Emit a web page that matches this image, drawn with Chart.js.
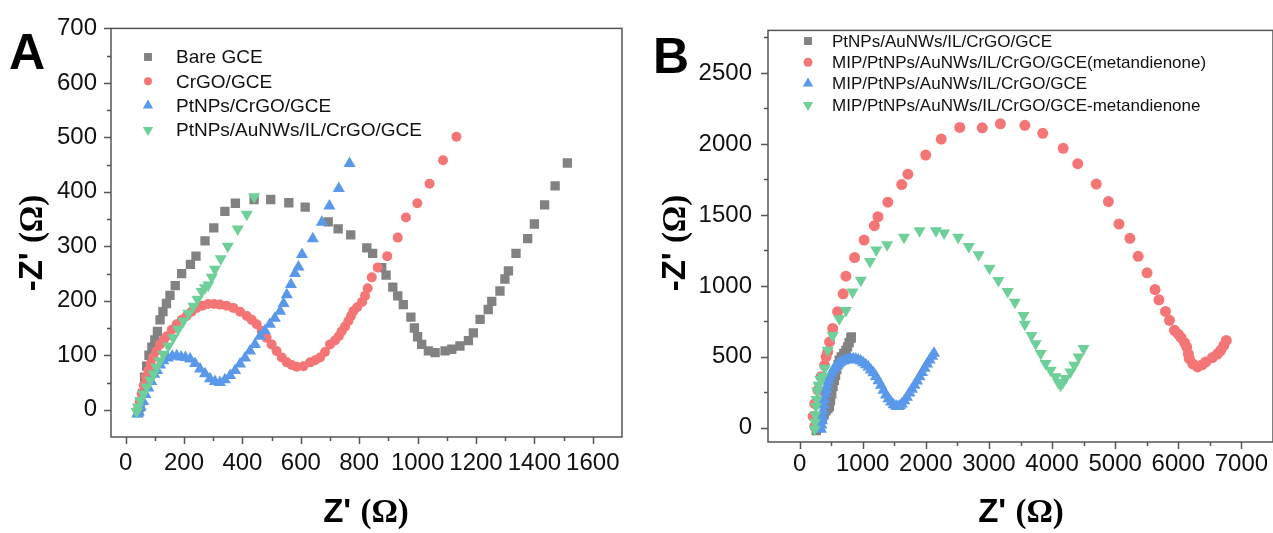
<!DOCTYPE html>
<html>
<head>
  <meta charset="utf-8" />
  <title>EIS Nyquist plots A / B</title>
  <script src="https://cdn.jsdelivr.net/npm/chart.js"></script>
  <style>
    html, body { margin: 0; padding: 0; background: #ffffff; overflow: hidden; }
    body { width: 1273px; height: 533px; position: relative; font-family: Arial, "Liberation Sans", sans-serif; }
    canvas { position: absolute; top: 0; }
    #chartA { left: 0; }
    #chartB { left: 640px; }
    .panel { position: absolute; font-weight: bold; font-size: 50px; color: #000; line-height: 1; }
    .title { position: absolute; font-weight: bold; font-size: 33px; color: #000; white-space: nowrap; line-height: 1; }
    .title .om { font-family: "Liberation Serif", "DejaVu Serif", serif; }
    .ytitle { transform: translate(-50%, -50%) rotate(-90deg); }
    .xtitle { transform: translate(-50%, 0); }
  </style>
</head>
<body>
  <canvas id="chartA" width="640" height="533"></canvas>
  <canvas id="chartB" width="640" height="533"></canvas>
  <div class="panel" style="left:9px; top:27px;">A</div>
  <div class="panel" style="left:653px; top:31px;">B</div>
  <div class="title ytitle" style="left:31px; top:243px;">-Z' <span class="om">(Ω)</span></div>
  <div class="title ytitle" style="left:674px; top:243px;">-Z' <span class="om">(Ω)</span></div>
  <div class="title xtitle" style="left:366px; top:494px;">Z' <span class="om">(Ω)</span></div>
  <div class="title xtitle" style="left:1021px; top:494px;">Z' <span class="om">(Ω)</span></div>
  <script>
    // ---- panel A data: [Z', -Z''] in ohm ----
    const labelsA = ['Bare GCE', 'CrGO/GCE', 'PtNPs/CrGO/GCE', 'PtNPs/AuNWs/IL/CrGO/GCE'];
    const bareGce = [[45,-5],[50,5],[58,30],[65,60],[72,80],[80,100],[90,115],[100,128],[109,144],[118,165],[128,180],[140,195],[152,210],[170,228],[192,250],[222,267],[241,282],[272,310],[302,334],[340,364],[376,379],[440,386],[497,386],[559,380],[615,372],[694,345],[728,332],[771,321],[826,297],[846,287],[877,261],[892,247],[915,225],[932,209],[951,193],[977,170],[989,150],[1000,134],[1014,120],[1037,108],[1060,105],[1094,108],[1117,111],[1145,117],[1174,127],[1191,141],[1214,166],[1242,184],[1254,199],[1282,218],[1299,240],[1311,255],[1337,287],[1377,314],[1400,341],[1435,376],[1471,411],[1513,453]];
    const crgoGce = [[42,0],[48,15],[55,30],[62,45],[70,60],[78,72],[86,85],[95,97],[106,108],[118,120],[130,128],[141,135],[158,147],[175,157],[192,165],[209,172],[226,180],[243,187],[263,191],[283,194],[303,194],[323,193],[346,191],[369,187],[392,180],[415,172],[432,165],[449,157],[466,145],[483,132],[500,120],[517,108],[535,96],[552,87],[569,82],[586,79],[609,80],[632,87],[649,91],[666,96],[683,106],[700,120],[717,127],[730,135],[740,144],[752,153],[763,163],[772,172],[780,181],[793,188],[810,198],[820,209],[829,223],[843,243],[863,261],[896,282],[932,316],[960,353],[999,379],[1041,415],[1087,458],[1133,501]];
    const ptCrgoGce = [[40,-8],[45,-4],[52,5],[60,15],[68,28],[78,40],[88,52],[98,65],[108,72],[118,82],[129,90],[145,95],[160,98],[175,99],[190,97],[205,96],[221,93],[238,85],[255,75],[272,66],[289,57],[306,52],[323,50],[340,55],[358,63],[375,72],[392,84],[409,95],[426,108],[443,120],[460,135],[477,145],[494,157],[511,168],[529,181],[541,195],[552,211],[566,230],[580,250],[592,262],[604,285],[641,314],[672,344],[698,374],[730,406],[767,452]];
    const ptAuIlGce = [[38,-3],[42,5],[50,17],[61,29],[72,42],[84,54],[95,66],[106,78],[117,90],[129,102],[146,117],[163,132],[180,148],[198,163],[215,177],[232,190],[246,203],[261,217],[272,224],[283,229],[295,243],[306,258],[326,277],[350,300],[384,332],[415,359],[440,391]];
    const xTicksA = [0,100,200,300,400,500,600,700,800,900,1000,1100,1200,1300,1400,1500,1600];
    const xLabelsA = [0,200,400,600,800,1000,1200,1400,1600];
    const yTicksA = [0,50,100,150,200,250,300,350,400,450,500,550,600,650,700];
    const yLabelsA = [0,100,200,300,400,500,600,700];

    // ---- panel B data ----
    const labelsB = ['PtNPs/AuNWs/IL/CrGO/GCE', 'MIP/PtNPs/AuNWs/IL/CrGO/GCE(metandienone)', 'MIP/PtNPs/AuNWs/IL/CrGO/GCE', 'MIP/PtNPs/AuNWs/IL/CrGO/GCE-metandienone'];
    const ptAuIlB = [[265,-20],[280,0],[300,20],[330,45],[360,70],[390,95],[420,120],[450,135],[473,150],[490,190],[510,240],[530,290],[551,335],[570,370],[590,410],[610,445],[629,476],[660,500],[700,525],[734,546],[760,570],[785,600],[812,630],[820,640]];
    const mipTemplate = [[240,10],[215,80],[240,170],[290,265],[340,360],[395,440],[420,500],[445,535],[475,605],[525,700],[603,818],[690,944],[734,1068],[872,1200],[1022,1323],[1184,1424],[1242,1487],[1398,1590],[1618,1714],[1716,1787],[1999,1922],[2245,2034],[2538,2116],[2894,2114],[3182,2142],[3569,2131],[3852,2075],[4176,1969],[4407,1861],[4700,1717],[4893,1594],[5060,1436],[5233,1335],[5364,1208],[5505,1092],[5631,974],[5693,902],[5797,820],[5860,757],[5939,687],[6000,660],[6044,635],[6100,600],[6133,569],[6160,520],[6175,488],[6230,450],[6306,429],[6380,445],[6436,464],[6541,495],[6620,520],[6672,546],[6720,580],[6760,616]];
    const mipEluted = [[340,-10],[345,20],[355,50],[365,80],[375,120],[385,160],[395,200],[410,240],[425,270],[440,300],[460,330],[480,360],[505,385],[530,405],[560,425],[590,440],[620,452],[650,462],[690,470],[730,476],[770,480],[810,484],[850,486],[890,484],[930,478],[970,470],[1010,458],[1050,444],[1090,428],[1130,408],[1170,388],[1210,362],[1250,332],[1290,300],[1330,265],[1370,232],[1410,205],[1450,182],[1490,163],[1530,152],[1560,150],[1590,156],[1620,168],[1660,190],[1700,215],[1740,245],[1780,272],[1820,300],[1860,330],[1900,360],[1940,390],[1980,420],[2020,450],[2060,478],[2100,505],[2130,525]];
    const mipRebound = [[240,-10],[245,40],[250,90],[260,150],[270,200],[280,260],[300,300],[330,340],[368,362],[400,420],[446,546],[525,651],[629,769],[734,827],[839,956],[970,1040],[1116,1171],[1215,1253],[1387,1290],[1654,1342],[1900,1389],[2161,1389],[2290,1373],[2512,1342],[2680,1278],[2836,1220],[3009,1124],[3150,1038],[3296,960],[3411,885],[3547,792],[3569,729],[3673,651],[3741,593],[3820,523],[3898,453],[3977,406],[4055,359],[4100,320],[4133,300],[4170,320],[4212,347],[4290,394],[4353,441],[4421,499],[4499,558]];
    const xTicksB = [0,500,1000,1500,2000,2500,3000,3500,4000,4500,5000,5500,6000,6500,7000];
    const xLabelsB = [0,1000,2000,3000,4000,5000,6000,7000];
    const yTicksB = [0,250,500,750,1000,1250,1500,1750,2000,2250,2500,2750];
    const yLabelsB = [0,500,1000,1500,2000,2500];

    const GRAY = '#828282', RED = '#F47575', BLUE = '#5A98EA', GREEN = '#6FCF98';
    const AXIS = '#555555';
    const tickFont = { family: 'Arial, "Liberation Sans", sans-serif', size: 24 };

    const toXY = arr => arr.map(p => ({ x: p[0], y: p[1] }));

    function series(label, pts, color, style, radius, order, rotation) {
      return {
        label, data: toXY(pts), order,
        pointStyle: style, pointRadius: radius, rotation: rotation || 0,
        backgroundColor: color, borderColor: color, pointBorderWidth: 0,
        showLine: false
      };
    }

    // frame box + outward major/minor tick marks
    const framePlugin = {
      id: 'frame',
      afterDraw(chart) {
        const { ctx, chartArea: a, scales: { x, y } } = chart;
        ctx.save();
        ctx.strokeStyle = AXIS;
        ctx.lineWidth = 1.5;
        ctx.strokeRect(a.left, a.top, a.right - a.left, a.bottom - a.top);
        ctx.beginPath();
        x.ticks.forEach(t => {
          const px = Math.round(x.getPixelForValue(t.value)) + 0.5;
          ctx.moveTo(px, a.bottom); ctx.lineTo(px, a.bottom + (t.label !== '' ? 7 : 4));
        });
        y.ticks.forEach(t => {
          const py = Math.round(y.getPixelForValue(t.value)) + 0.5;
          ctx.moveTo(a.left, py); ctx.lineTo(a.left - (t.label !== '' ? 7 : 4), py);
        });
        ctx.stroke();
        ctx.restore();
      }
    };

    // legend drawn inside the plot, Origin style
    const boxLegend = {
      id: 'boxLegend',
      afterDraw(chart, args, o) {
        const ctx = chart.ctx;
        ctx.save();
        ctx.font = o.size + 'px Arial, "Liberation Sans", sans-serif';
        ctx.textBaseline = 'middle';
        chart.data.datasets.forEach((ds, i) => {
          const cy = o.y + i * o.gap;
          ctx.fillStyle = ds.backgroundColor;
          ctx.strokeStyle = ds.backgroundColor;
          Chart.helpers.drawPoint(ctx, { pointStyle: ds.pointStyle, radius: ds.pointRadius - 1, rotation: ds.rotation, borderWidth: 0 }, o.x, cy);
          ctx.fillStyle = '#111';
          ctx.fillText(ds.label, o.textX, cy + 1);
        });
        ctx.restore();
      }
    };

    function makeChart(id, datasets, ax) {
      return new Chart(document.getElementById(id), {
        type: 'scatter',
        data: { datasets },
        options: {
          responsive: false,
          animation: false,
          events: [],
          layout: { padding: ax.padding },
          plugins: {
            legend: { display: false },
            tooltip: { enabled: false },
            boxLegend: ax.legend
          },
          scales: {
            x: {
              type: 'linear', min: ax.xMin, max: ax.xMax,
              afterBuildTicks: s => { s.ticks = ax.xTicks.map(v => ({ value: v })); },
              afterFit: s => { s.height = ax.xH; },
              grid: { display: false, drawTicks: false },
              border: { display: false },
              ticks: { autoSkip: false, maxRotation: 0, padding: ax.xPad, color: '#111', font: tickFont,
                       callback: v => ax.xLabels.includes(v) ? String(v) : '' }
            },
            y: {
              type: 'linear', min: ax.yMin, max: ax.yMax,
              afterBuildTicks: s => { s.ticks = ax.yTicks.map(v => ({ value: v })); },
              afterFit: s => { s.width = ax.yW; },
              grid: { display: false, drawTicks: false },
              border: { display: false },
              ticks: { autoSkip: false, padding: ax.yPad, color: '#111', font: tickFont,
                       callback: v => ax.yLabels.includes(v) ? String(v) : '' }
            }
          }
        },
        plugins: [framePlugin, boxLegend]
      });
    }

    makeChart('chartA', [
      series(labelsA[0], bareGce, GRAY, 'rect', 6.6, 3),
      series(labelsA[1], crgoGce, RED, 'circle', 5, 2),
      series(labelsA[2], ptCrgoGce, BLUE, 'triangle', 7, 1),
      series(labelsA[3], ptAuIlGce, GREEN, 'triangle', 7, 0, 180)
    ], {
      xMin: -50, xMax: 1700, yMin: -50, yMax: 700,
      xTicks: xTicksA, xLabels: xLabelsA, yTicks: yTicksA, yLabels: yLabelsA,
      padding: { left: 0, top: 24, right: 18, bottom: 0 },
      xH: 96, yW: 111, xPad: 12, yPad: 14,
      legend: { x: 148, y: 57, gap: 24.3, textX: 176, size: 19 }
    });

    makeChart('chartB', [
      series(labelsB[0], ptAuIlB, GRAY, 'rect', 6.6, 3),
      series(labelsB[1], mipTemplate, RED, 'circle', 5.5, 2),
      series(labelsB[2], mipEluted, BLUE, 'triangle', 7, 1),
      series(labelsB[3], mipRebound, GREEN, 'triangle', 7, 0, 180)
    ], {
      xMin: -500, xMax: 7500, yMin: -100, yMax: 2800,
      xTicks: xTicksB, xLabels: xLabelsB, yTicks: yTicksB, yLabels: yLabelsB,
      padding: { left: 0, top: 29, right: 2, bottom: 0 },
      xH: 91, yW: 128, xPad: 8, yPad: 16,
      legend: { x: 168, y: 41, gap: 21.3, textX: 192, size: 17 }
    });
  </script>
</body>
</html>
